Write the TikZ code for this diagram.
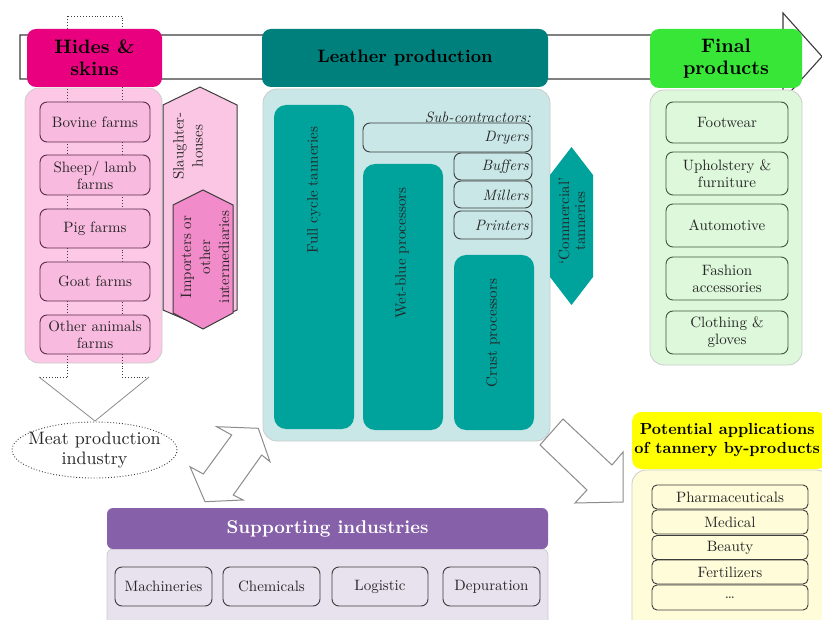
\documentclass[tikz,border=0pt]{standalone}
\usepackage{fontspec}
\setmainfont{lmroman10-regular.otf}[BoldFont=lmroman10-bold.otf, ItalicFont=lmroman10-italic.otf, BoldItalicFont=lmroman10-bolditalic.otf]
\definecolor{mag}{HTML}{E8007E}
\definecolor{pinkpanel}{HTML}{FCC8E6}
\definecolor{pinkbox}{HTML}{F9BADF}
\definecolor{pinkline}{HTML}{5A2A48}
\definecolor{slfill}{HTML}{FBC6E4}
\definecolor{imfill}{HTML}{F28BC9}
\definecolor{tealhdr}{HTML}{00807C}
\definecolor{tealbox}{HTML}{00A29C}
\definecolor{tealpanel}{HTML}{C9E7E7}
\definecolor{greenhdr}{HTML}{38E638}
\definecolor{greenpanel}{HTML}{DDF8DA}
\definecolor{greenline}{HTML}{3A5A3A}
\definecolor{yelhdr}{HTML}{FFFF00}
\definecolor{yelpanel}{HTML}{FFFCD9}
\definecolor{purhdr}{HTML}{8660A8}
\definecolor{purpanel}{HTML}{E8E2EE}
\definecolor{outl}{HTML}{3C3C3C}
\definecolor{arrgrey}{HTML}{8C8C8C}
\definecolor{txt}{HTML}{262626}
\tikzset{
  base/.style={inner sep=0pt, align=center, text=txt, font=\fontsize{15}{17}\selectfont},
  hdr/.style={base, rounded corners=9pt, font=\fontsize{19.5}{22}\selectfont\bfseries, text=black},
  panel/.style={rounded corners=14pt, draw=black!20, line width=0.8pt},
  itembox/.style={base, rounded corners=7pt, line width=0.9pt},
  pinkitem/.style={itembox, draw=pinkline, fill=pinkbox},
  tealitem/.style={itembox, draw=outl, fill=tealpanel},
  tealblock/.style={rounded corners=12pt, fill=tealbox, draw=none, inner sep=0pt},
  greenitem/.style={itembox, draw=greenline, fill=greenpanel},
  yelitem/.style={itembox, rounded corners=5pt, draw=outl, fill=yelpanel},
  puritem/.style={itembox, draw=outl, fill=purpanel},
  rottext/.style={base, rotate=90},
  blockarrow/.style={draw=arrgrey, line width=1pt, fill=white, line join=miter},
}
\begin{document}
\begin{tikzpicture}[x=1pt,y=-1pt]
\useasboundingbox (0,0) rectangle (822,620);
\fill[white] (0,0) rectangle (822,620);

% big flow arrow
\draw[outl, line width=1.1pt, fill=white]
  (20,35) -- (783,35) -- (783,13) -- (822,56.5) -- (783,100) -- (783,79) -- (20,79) -- cycle;

% panels
\path[panel, fill=pinkpanel] (25,88) rectangle (162,363);
\path[panel, fill=tealpanel] (263,89) rectangle (550,441);
\path[panel, fill=greenpanel] (650,90) rectangle (802,365);
\path[panel, fill=yelpanel] (632,470) rectangle (830,640);
\path[panel, fill=purpanel, rounded corners=6pt] (107,549) rectangle (548,640);

% dotted arrow towards meat industry
\draw[outl, dotted, line width=0.9pt] (67,377) -- (67,16) -- (122,16) -- (122,377);
\draw[outl, dotted, line width=0.9pt] (67,377) -- (39,377);
\draw[outl, dotted, line width=0.9pt] (122,377) -- (149,377);
\draw[arrgrey, line width=0.8pt] (39,377) -- (95,421) -- (149,377);

% farms
\node[pinkitem, minimum width=110pt, minimum height=40pt] (bov) at (95,122) {Bovine farms};
\node[pinkitem, minimum width=110pt, minimum height=40pt] (shp) at (95,175) {Sheep/ lamb\\farms};
\node[pinkitem, minimum width=110pt, minimum height=39pt] (pig) at (95,228.5) {Pig farms};
\node[pinkitem, minimum width=110pt, minimum height=39pt] (goat) at (95,281.5) {Goat farms};
\node[pinkitem, minimum width=110pt, minimum height=39pt] (oth) at (95,334.5) {Other animals\\farms};

% slaughter-houses and importers
\draw[outl, line width=1pt, fill=slfill]
  (163,105) -- (200,87) -- (237,105) -- (237,310) -- (200,326) -- (163,310) -- cycle;
\node[rottext, font=\fontsize{15}{19}\selectfont] (slt) at (188,146) {Slaughter-\\houses};
\draw[outl, line width=1pt, fill=imfill]
  (173,205) -- (203,190) -- (233,205) -- (233,313) -- (203,329) -- (173,313) -- cycle;
\node[rottext, font=\fontsize{15}{19}\selectfont] (imp) at (205,257) {Importers or\\other\\intermediaries};

% headers
\node[hdr, fill=mag, minimum width=135pt, minimum height=58pt] (hides) at (94.5,58) {Hides \&\\skins};
\node[hdr, fill=tealhdr, font=\fontsize{18}{21}\selectfont\bfseries, minimum width=286pt, minimum height=58pt] (leather) at (405,58) {Leather production};
\node[hdr, fill=greenhdr, minimum width=152pt, minimum height=59pt] (final) at (726,58.5) {Final\\products};
\node[hdr, fill=yelhdr, font=\fontsize{16}{19}\selectfont\bfseries, minimum width=194pt, minimum height=57pt, anchor=west] (pot) at (632,440.5) {\hspace*{-4pt}Potential applications\\\hspace*{-4pt}of tannery by-products};
\node[hdr, fill=purhdr, text=white, font=\fontsize{18.5}{21}\selectfont\bfseries, rounded corners=6pt, minimum width=441pt, minimum height=41pt] (sup) at (327.5,528.5) {Supporting industries};

% leather production
\node[tealblock, minimum width=80pt, minimum height=324pt] (full) at (314,267) {};
\node[rottext] (fullt) at (314,190) {Full cycle tanneries};
\node[tealblock, minimum width=80pt, minimum height=266pt] (wet) at (403,297) {};
\node[rottext] (wett) at (402,253) {Wet-blue processors};
\node[tealblock, minimum width=80pt, minimum height=175pt] (crust) at (494,342.5) {};
\node[rottext] (crustt) at (493,333) {Crust processors};
\node[base, anchor=east, font=\fontsize{15}{17}\selectfont\itshape] (subc) at (531,117) {Sub-contractors:};
\node[tealitem, minimum width=169pt, minimum height=29pt] (dry) at (447.5,137.5) {};
\node[tealitem, minimum width=78pt, minimum height=27pt] (buf) at (493,166.5) {};
\node[tealitem, minimum width=78pt, minimum height=27pt] (mil) at (493,194.5) {};
\node[tealitem, minimum width=78pt, minimum height=28pt] (pri) at (493,225) {};
\node[base, anchor=east, font=\fontsize{15}{17}\selectfont\itshape] (dryt) at (529,138) {Dryers};
\node[base, anchor=east, font=\fontsize{15}{17}\selectfont\itshape] (buft) at (529,167) {Buffers};
\node[base, anchor=east, font=\fontsize{15}{17}\selectfont\itshape] (milt) at (529,195) {Millers};
\node[base, anchor=east, font=\fontsize{15}{17}\selectfont\itshape] (prit) at (529,225) {Printers};
\fill[tealbox] (550,175) -- (571.5,147) -- (593,175) -- (593,277) -- (571.5,305) -- (550,277) -- cycle;
\node[rottext, font=\fontsize{15}{16}\selectfont] (comm) at (572,221) {‘Commercial’\\tanneries};

% final products
\node[greenitem, minimum width=122pt, minimum height=41pt] (foot) at (727,122.5) {Footwear};
\node[greenitem, minimum width=122pt, minimum height=43pt] (uph) at (727,173.5) {Upholstery \&\\furniture};
\node[greenitem, minimum width=122pt, minimum height=43pt] (auto) at (727,225.5) {Automotive};
\node[greenitem, minimum width=122pt, minimum height=43pt] (fash) at (727,278.5) {Fashion\\accessories};
\node[greenitem, minimum width=122pt, minimum height=43pt] (cloth) at (727,332.5) {Clothing \&\\gloves};

% by-products
\node[yelitem, minimum width=156pt, minimum height=24pt] (pha) at (730,497) {Pharmaceuticals};
\node[yelitem, minimum width=156pt, minimum height=24pt] (med) at (730,522) {Medical};
\node[yelitem, minimum width=156pt, minimum height=24pt] (bea) at (730,547.5) {Beauty};
\node[yelitem, minimum width=156pt, minimum height=24pt] (fer) at (730,572) {Fertilizers};
\node[yelitem, minimum width=156pt, minimum height=25pt] (dots) at (730,597.5) {\dots};

% supporting industries
\node[puritem, minimum width=97pt, minimum height=39pt] (mach) at (163.5,586.5) {Machineries};
\node[puritem, minimum width=97pt, minimum height=39pt] (chem) at (271.5,586.5) {Chemicals};
\node[puritem, minimum width=96pt, minimum height=39pt] (logi) at (380,586.5) {Logistic};
\node[puritem, minimum width=97pt, minimum height=39pt] (depu) at (491.5,586.5) {Depuration};

% meat production
\coordinate (meatc) at (94.5,450);
\draw[outl, dotted, line width=0.9pt, fill=white] (meatc) ellipse [x radius=82.5pt, y radius=28pt];
\node[base, font=\fontsize{18}{20}\selectfont] (meat) at (meatc) {Meat production\\industry};

% block arrows
\draw[blockarrow] (216.7,426.7) -- (258.3,428.3) -- (270,461.7) -- (261.7,455) -- (233.3,495)
  -- (243.3,500) -- (205,501.7) -- (190,466.7) -- (203.3,474) -- (231.7,435) -- cycle;
\draw[blockarrow] (563,419) -- (540,445) -- (587,490) -- (575,503) -- (623,502) -- (623,452) -- (612,465) -- cycle;
\end{tikzpicture}
\end{document}
